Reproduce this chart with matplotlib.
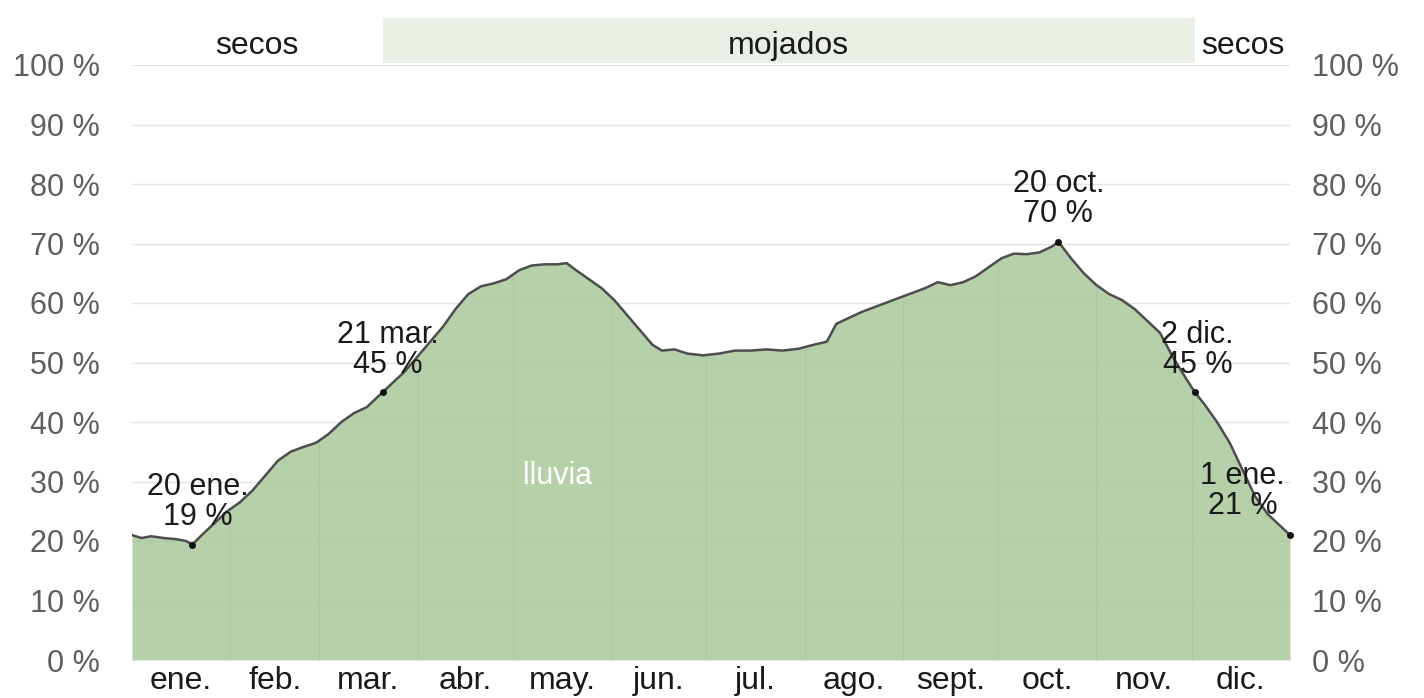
import matplotlib
matplotlib.use("Agg")
import matplotlib.pyplot as plt
from matplotlib.patches import Rectangle

plt.rcParams['font.family'] = ['Liberation Sans', 'DejaVu Sans']

# Day of year (0 = 1 Jan, 365 = 1 Jan next year) and daily chance of rain (%)
days = [0, 3, 6, 10, 14, 17, 19, 22, 26, 30, 34, 38, 42, 46, 50, 54, 58, 62, 66, 70,
        74, 78, 79, 82, 86, 90, 94, 98, 102, 106, 110, 114, 118, 122, 126, 130, 134, 137,
        140, 144, 148, 152, 156, 160, 164, 167, 171, 175, 180, 185, 190, 195, 200, 205,
        210, 215, 219, 222, 226, 230, 235, 240, 245, 250, 254, 258, 262, 266, 270, 274,
        278, 282, 286, 290, 292, 296, 300, 304, 308, 312, 316, 320, 324, 328, 332, 335,
        338, 342, 346, 350, 354, 358, 362, 365]
rain = [21, 20.5, 20.8, 20.5, 20.3, 20, 19.4, 21, 23, 25, 26.5, 28.5, 31, 33.5, 35, 35.8,
        36.5, 38, 40, 41.5, 42.5, 44.5, 45, 46.5, 48.5, 51, 53.5, 56, 59, 61.5, 62.8, 63.3,
        64, 65.5, 66.3, 66.5, 66.5, 66.7, 65.5, 64, 62.5, 60.5, 58, 55.5, 53, 52, 52.2,
        51.5, 51.2, 51.5, 52, 52, 52.2, 52, 52.3, 53, 53.5, 56.5, 57.5, 58.5, 59.5, 60.5,
        61.5, 62.5, 63.5, 63, 63.5, 64.5, 66, 67.5, 68.3, 68.2, 68.5, 69.5, 70.3, 67.5, 65,
        63, 61.5, 60.5, 59, 57, 55, 51, 47.5, 45, 43, 40, 36.5, 32, 27.5, 24.5, 22.5, 21]

month_labels = ['ene.', 'feb.', 'mar.', 'abr.', 'may.', 'jun.', 'jul.', 'ago.',
                'sept.', 'oct.', 'nov.', 'dic.']
month_lengths = [31, 28, 31, 30, 31, 30, 31, 31, 30, 31, 30, 31]

y_ticks = [0, 10, 20, 30, 40, 50, 60, 70, 80, 90, 100]
y_labels = [f'{v} %' for v in y_ticks]

# Annotated points: (day, value, text)
ann_days = [19, 79, 292, 335, 365]
ann_vals = [19.4, 45, 70.3, 45, 21]
ann_texts = ['20 ene.\n19 %', '21 mar.\n45 %', '20 oct.\n70 %', '2 dic.\n45 %', '1 ene.\n21 %']

wet_start, wet_end = 79, 335
season_labels = ['secos', 'mojados', 'secos']

# month starts and centers
starts = [0]
for L in month_lengths:
    starts.append(starts[-1] + L)
centers = [(starts[i] + starts[i + 1]) / 2 for i in range(12)]

W, H = 1424, 698
fig = plt.figure(figsize=(W / 100, H / 100), dpi=100)
left, right = 132 / W, 1290 / W
bottom, top = 1 - 660 / H, 1 - 65 / H
ax = fig.add_axes([left, bottom, right - left, top - bottom])

fill = ax.fill_between(days, rain, 0, color='#aac99b', alpha=0.85, lw=0, zorder=2)
ax.plot(days, rain, color='#4d4d4d', lw=1.8, zorder=3)
ax.set_xlim(0, 365)
ax.set_ylim(0, 100)

# grid
for v in y_ticks[1:]:
    ax.axhline(v, color='#e3e3e3', lw=1.0, zorder=1)
clip_path = fill.get_paths()[0]
for s in starts[1:-1]:
    vl = ax.axvline(s, color='#adc8a0', lw=0.8, zorder=2.5)
    vl.set_clip_path(clip_path, ax.transData)

for sp in ax.spines.values():
    sp.set_visible(False)

ax.set_xticks(centers)
ax.set_xticklabels(month_labels, fontsize=23, color='#1a1a1a')
ax.tick_params(axis='x', length=0, pad=4)
ax.set_yticks(y_ticks)
ax.set_yticklabels(y_labels, fontsize=22, color='#5e5e5e')
ax.tick_params(axis='y', length=0, pad=23)

ax2 = ax.twinx()
ax2.set_ylim(0, 100)
ax2.set_yticks(y_ticks)
ax2.set_yticklabels(y_labels, fontsize=22, color='#5e5e5e')
ax2.tick_params(axis='y', length=0, pad=16)
for sp in ax2.spines.values():
    sp.set_visible(False)

# annotations
offsets = [(4, 9), (4, 9), (0, 9), (2, 9), (-34, 10)]
for d, v, t, off in zip(ann_days, ann_vals, ann_texts, offsets):
    ax.plot([d], [v], 'o', color='#111111', ms=4, zorder=5, clip_on=False)
    ax.annotate(t, (d, v), xytext=off, textcoords='offset points', ha='center',
                va='bottom', fontsize=22, color='#1a1a1a', linespacing=1.0, zorder=6,
                annotation_clip=False)

ax.text(134, 31, 'lluvia', fontsize=22, color='white', ha='center', va='center', zorder=6)

# season band
bax = fig.add_axes([left, 1 - 63 / H, right - left, 45 / H])
bax.set_xlim(0, 365)
bax.set_ylim(0, 1)
bax.axis('off')
bax.add_patch(Rectangle((wet_start, 0), wet_end - wet_start, 1, color='#e9efe5', lw=0))
ty = 0.2
bax.text(wet_start / 2, ty, season_labels[0], ha='center', va='baseline', fontsize=23, color='#1a1a1a')
bax.text((wet_start + wet_end) / 2, ty, season_labels[1], ha='center', va='baseline', fontsize=23, color='#1a1a1a')
bax.text((wet_end + 365) / 2, ty, season_labels[2], ha='center', va='baseline', fontsize=23, color='#1a1a1a')

fig.savefig('out.png', dpi=100)
